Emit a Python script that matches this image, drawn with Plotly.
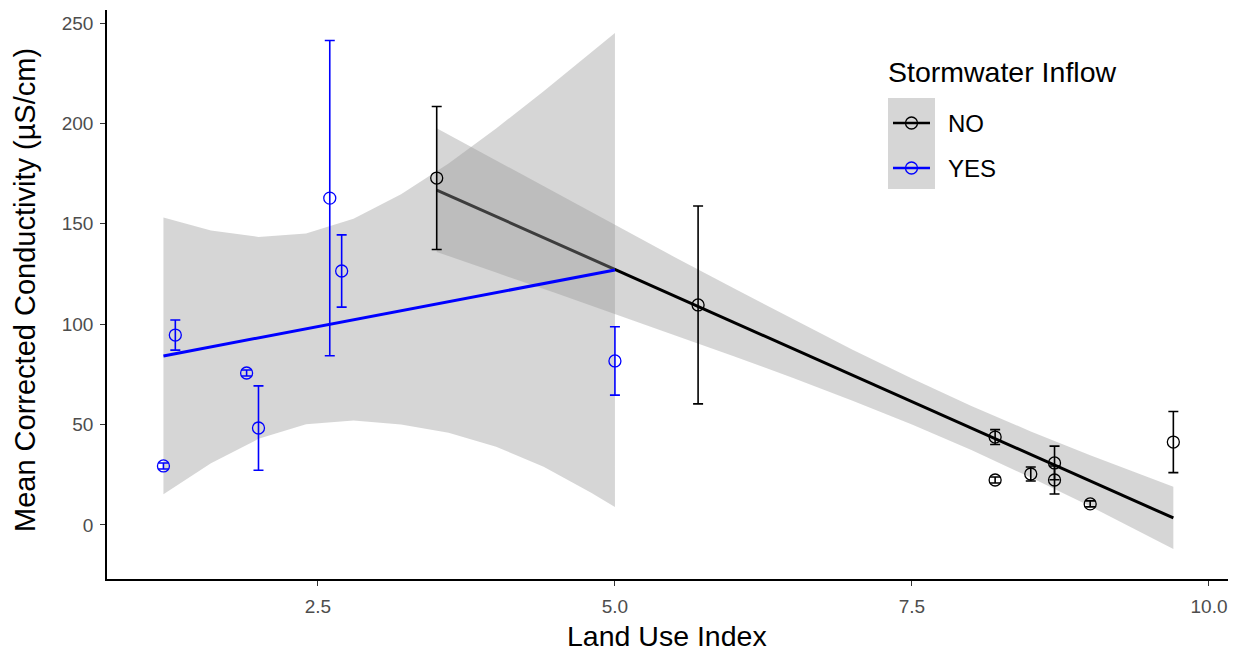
import plotly.graph_objects as go

# ---- data: site means with error (+/-) ----
no_x = [3.5, 5.7, 8.2, 8.2, 8.5, 8.7, 8.7, 9.0, 9.7]
no_y = [172.8, 109.6, 43.8, 22.4, 25.4, 30.9, 22.4, 10.5, 41.3]
no_err = [35.6, 49.3, 3.7, 1.5, 3.5, 8.4, 7.0, 1.5, 15.2]

yes_x = [1.2, 1.3, 1.9, 2.0, 2.6, 2.7, 5.0]
yes_y = [29.4, 94.6, 75.7, 48.3, 162.8, 126.5, 81.7]
yes_err = [1.5, 7.5, 1.5, 21.0, 78.5, 18.0, 17.0]

# ---- linear fits ----
no_fit_x = [3.5, 9.7]
no_fit_y = [166.8, 3.5]
yes_fit_x = [1.2, 5.0]
yes_fit_y = [84.2, 127.0]

# ---- confidence bands ----
no_band_x = [3.5, 4.0, 4.5, 5.0, 5.5, 6.0, 6.5, 7.0, 7.5, 8.0, 8.5, 9.0, 9.7]
no_band_hi = [197.6, 181.5, 165.5, 149.4, 133.5, 117.9, 102.4, 87.3, 73.0, 59.3, 46.6, 34.7, 19.0]
no_band_lo = [136.0, 125.7, 115.5, 105.2, 94.7, 84.1, 73.2, 61.9, 50.0, 37.3, 23.6, 9.3, -12.0]

yes_band_x = [1.2, 1.6, 2.0, 2.4, 2.8, 3.2, 3.6, 4.0, 4.4, 4.8, 5.0]
yes_band_hi = [153.1, 146.7, 143.5, 145.2, 152.5, 164.7, 180.1, 197.5, 216.0, 235.2, 245.1]
yes_band_lo = [15.3, 30.7, 42.9, 50.2, 52.0, 50.0, 46.0, 39.0, 29.0, 16.0, 8.9]

x_ticks = [2.5, 5.0, 7.5, 10.0]
x_ticklabels = ["2.5", "5.0", "7.5", "10.0"]
y_ticks = [0, 50, 100, 150, 200, 250]

BAND = "rgba(153,153,153,0.4)"
FONT = "Liberation Sans, Arial, sans-serif"
TITLE_SIZE = 28.5
TICK_SIZE = 19

fig = go.Figure()


def band(xs, hi, lo):
    fig.add_trace(go.Scatter(
        x=list(xs) + list(xs)[::-1], y=list(hi) + list(lo)[::-1],
        fill="toself", fillcolor=BAND, line=dict(width=0),
        mode="lines", hoverinfo="skip", showlegend=False))


def fit(xs, ys, color):
    fig.add_trace(go.Scatter(x=xs, y=ys, mode="lines",
                             line=dict(color=color, width=3), showlegend=False))


band(no_band_x, no_band_hi, no_band_lo)
fit(no_fit_x, no_fit_y, "black")
band(yes_band_x, yes_band_hi, yes_band_lo)
fit(yes_fit_x, yes_fit_y, "#0000FF")

for xs, ys, err, color in [(no_x, no_y, no_err, "black"), (yes_x, yes_y, yes_err, "#0000FF")]:
    fig.add_trace(go.Scatter(
        x=xs, y=ys, mode="markers",
        marker=dict(symbol="circle-open", size=12, color=color, line=dict(width=1.3, color=color)),
        error_y=dict(type="data", array=err, visible=True, color=color, thickness=1.6, width=5),
        showlegend=False))

W, H = 1242, 655
l, r, t, b = 107, 14, 10, 76
pw, ph = W - l - r, H - t - b

fig.update_layout(
    width=W, height=H,
    margin=dict(l=l, r=r, t=t, b=b),
    plot_bgcolor="white", paper_bgcolor="white",
    font=dict(family=FONT, color="black"),
    showlegend=False,
)
fig.update_xaxes(
    range=[0.725, 10.16], tickvals=x_ticks, ticktext=x_ticklabels,
    showgrid=False, zeroline=False, showline=True, linecolor="black", linewidth=1.5,
    ticks="outside", ticklen=5, tickcolor="#333333", tickwidth=1.2,
    tickfont=dict(size=TICK_SIZE, color="#4D4D4D", family=FONT),
    ticklabelstandoff=4,
)
fig.update_yaxes(
    range=[-26.9, 256.5], tickvals=y_ticks,
    showgrid=False, zeroline=False, showline=True, linecolor="black", linewidth=1.5,
    ticks="outside", ticklen=5, tickcolor="#333333", tickwidth=1.2,
    tickfont=dict(size=TICK_SIZE, color="#4D4D4D", family=FONT),
    ticklabelstandoff=3,
)


def px(x):
    return (x - l) / pw


def py(y):
    return 1 - (y - t) / ph


# axis titles
fig.add_annotation(x=px(667), y=py(636), xref="paper", yref="paper", text="Land Use Index",
                   showarrow=False, xanchor="center", yanchor="middle",
                   font=dict(size=TITLE_SIZE, color="black", family=FONT))
fig.add_annotation(x=px(25), y=py(290), xref="paper", yref="paper",
                   text="Mean Corrected Conductivity (µS/cm)", textangle=-90,
                   showarrow=False, xanchor="center", yanchor="middle",
                   font=dict(size=29, color="black", family=FONT))

# ---- manual legend (paper coordinates) ----
fig.add_annotation(x=px(886), y=py(72), xref="paper", yref="paper", text="Stormwater Inflow",
                   showarrow=False, xanchor="left", yanchor="middle",
                   font=dict(size=TITLE_SIZE, color="black", family=FONT))
fig.add_shape(type="rect", xref="paper", yref="paper", x0=px(888), x1=px(935), y0=py(98), y1=py(189),
              fillcolor="#D6D6D6", line=dict(width=0), layer="above")
for yy, label, color in [(123, "NO", "black"), (168, "YES", "#0000FF")]:
    fig.add_shape(type="line", xref="paper", yref="paper", x0=px(893), x1=px(930), y0=py(yy), y1=py(yy),
                  line=dict(color=color, width=2.5), layer="above")
    fig.add_shape(type="circle", xref="paper", yref="paper", x0=px(905.5), x1=px(917.5),
                  y0=py(yy - 6), y1=py(yy + 6), line=dict(color=color, width=1.3), layer="above")
    fig.add_annotation(x=px(946), y=py(yy), xref="paper", yref="paper", text=label, showarrow=False,
                       xanchor="left", yanchor="middle", font=dict(size=24, color="black", family=FONT))

fig.write_html("out.html", config={"displayModeBar": False},
               post_script="document.body.style.margin='0';document.body.style.overflow='hidden';")
